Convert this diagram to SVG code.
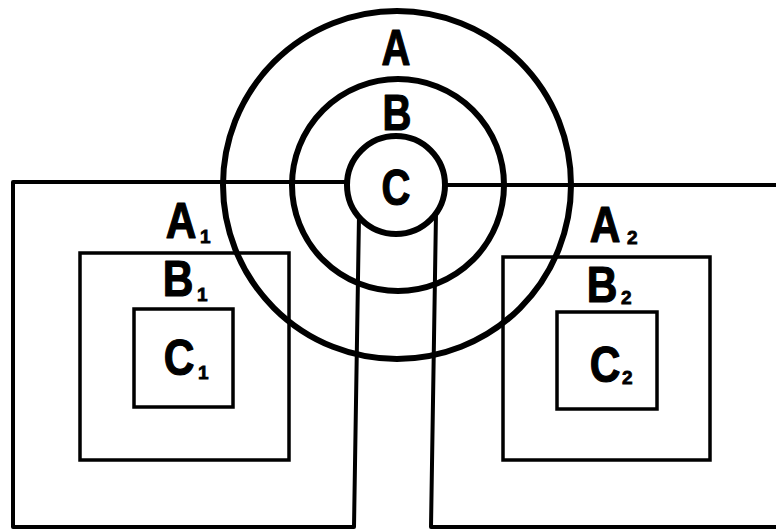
<svg xmlns="http://www.w3.org/2000/svg" width="776" height="530" viewBox="0 0 776 530">
<style>
.ring{fill:none;stroke:#000;stroke-width:6}
.frame{fill:none;stroke:#000;stroke-width:4;stroke-linejoin:round}
.box{fill:none;stroke:#000;stroke-width:3.5}
.lbl{font-family:"Liberation Sans",Arial,sans-serif;font-weight:bold;font-size:50px;fill:#000;stroke:#000;stroke-width:1.2;stroke-linejoin:round;text-anchor:middle}
.sub{font-family:"Liberation Sans",Arial,sans-serif;font-weight:bold;font-size:19px;fill:#000;stroke:#000;stroke-width:0.8}
</style>
<rect width="776" height="530" fill="#fff"/>
<g id="connectors">
<polyline class="frame" points="347,182 13,182 13,527 354,527 359,216"/>
<polyline class="frame" points="445,185 778,185"/>
<polyline class="frame" points="778,527 431,527 436,213"/>
</g>
<g id="circle-A"><circle class="ring" cx="397" cy="185" r="174"/>
<text class="lbl" transform="translate(396,65) scale(0.8,1)">A</text></g>
<g id="circle-B"><circle class="ring" cx="398" cy="185" r="106"/>
<text class="lbl" transform="translate(397,130) scale(0.8,1)">B</text></g>
<g id="circle-C"><circle class="ring" cx="396" cy="185" r="49"/>
<text class="lbl" transform="translate(396,205) scale(0.8,1)">C</text></g>
<g id="A1"><rect class="box" x="80" y="253" width="209" height="207"/>
<text class="lbl" transform="translate(181,238) scale(0.85,1)">A</text><text class="sub" x="200" y="243">1</text></g>
<g id="B1"><text class="lbl" transform="translate(178,296) scale(0.85,1)">B</text><text class="sub" x="197" y="301">1</text></g>
<g id="C1"><rect class="box" x="134" y="309" width="99" height="98"/>
<text class="lbl" transform="translate(179,375) scale(0.85,1)">C</text><text class="sub" x="198" y="379">1</text></g>
<g id="A2"><rect class="box" x="503" y="257" width="207" height="203"/>
<text class="lbl" transform="translate(605,242) scale(0.85,1)">A</text><text class="sub" x="627" y="244">2</text></g>
<g id="B2"><text class="lbl" transform="translate(602,302) scale(0.85,1)">B</text><text class="sub" x="621" y="304">2</text></g>
<g id="C2"><rect class="box" x="557" y="312" width="100" height="97"/>
<text class="lbl" transform="translate(605,382) scale(0.85,1)">C</text><text class="sub" x="622" y="384">2</text></g>
</svg>
